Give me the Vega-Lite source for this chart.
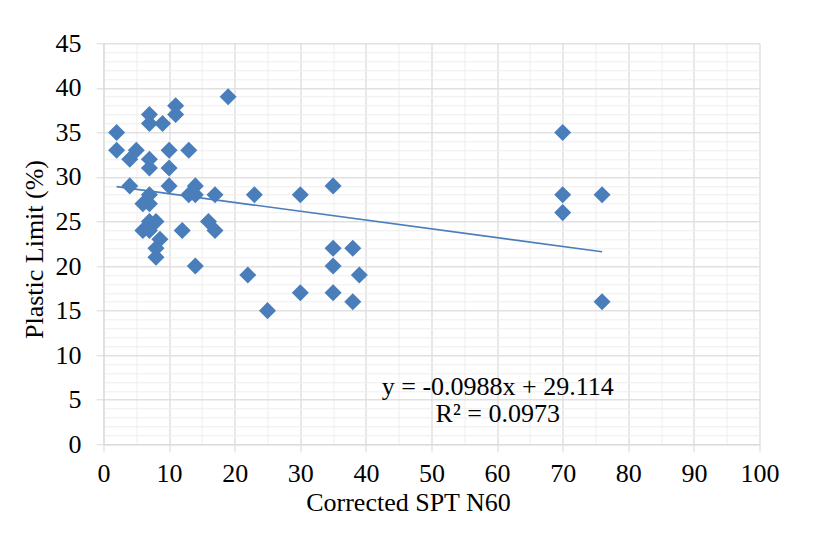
{
  "$schema": "https://vega.github.io/schema/vega-lite/v6.json",
  "width": 656,
  "height": 401,
  "autosize": "none",
  "padding": {"left": 103.5, "top": 43.3, "right": 67.5, "bottom": 97.7},
  "background": "white",
  "config": {
    "view": {"stroke": null},
    "font": "Liberation Serif",
    "axis": {
      "labelFont": "Liberation Serif",
      "titleFont": "Liberation Serif",
      "labelFontSize": 26,
      "titleFontSize": 26,
      "labelColor": "#000000",
      "titleColor": "#000000",
      "titleFontWeight": "normal",
      "labelFlush": false,
      "labelOverlap": false
    }
  },
  "datasets": {
    "points": [
      {"spt": 2, "pl": 35}, {"spt": 2, "pl": 33}, {"spt": 4, "pl": 32}, {"spt": 5, "pl": 33},
      {"spt": 4, "pl": 29}, {"spt": 7, "pl": 37}, {"spt": 7, "pl": 36}, {"spt": 9, "pl": 36},
      {"spt": 11, "pl": 38}, {"spt": 11, "pl": 37}, {"spt": 19, "pl": 39}, {"spt": 7, "pl": 32},
      {"spt": 7, "pl": 31}, {"spt": 10, "pl": 33}, {"spt": 13, "pl": 33}, {"spt": 10, "pl": 31},
      {"spt": 10, "pl": 29}, {"spt": 7, "pl": 28}, {"spt": 6, "pl": 27}, {"spt": 7, "pl": 27},
      {"spt": 7, "pl": 25}, {"spt": 8, "pl": 25}, {"spt": 6, "pl": 24}, {"spt": 7, "pl": 24},
      {"spt": 8.6, "pl": 23}, {"spt": 8, "pl": 22}, {"spt": 8, "pl": 21}, {"spt": 12, "pl": 24},
      {"spt": 16, "pl": 25}, {"spt": 17, "pl": 24}, {"spt": 14, "pl": 29}, {"spt": 13, "pl": 28},
      {"spt": 14, "pl": 28}, {"spt": 17, "pl": 28}, {"spt": 23, "pl": 28}, {"spt": 30, "pl": 28},
      {"spt": 35, "pl": 29}, {"spt": 14, "pl": 20}, {"spt": 22, "pl": 19}, {"spt": 25, "pl": 15},
      {"spt": 30, "pl": 17}, {"spt": 35, "pl": 22}, {"spt": 38, "pl": 22}, {"spt": 35, "pl": 20},
      {"spt": 39, "pl": 19}, {"spt": 35, "pl": 17}, {"spt": 38, "pl": 16}, {"spt": 70, "pl": 35},
      {"spt": 70, "pl": 28}, {"spt": 70, "pl": 26}, {"spt": 76, "pl": 28}, {"spt": 76, "pl": 16}
    ],
    "trend": [
      {"spt": 2, "pl": 28.916},
      {"spt": 76, "pl": 21.605}
    ]
  },
  "layer": [
    {
      "data": {"name": "points"},
      "mark": {"type": "point", "shape": "diamond", "filled": true, "size": 290, "color": "#4A7EBB", "opacity": 1},
      "encoding": {
        "x": {
          "field": "spt", "type": "quantitative",
          "scale": {"domain": [0, 100], "nice": false, "zero": false},
          "axis": {
            "orient": "bottom", "values": [0,5,10,15,20,25,30,35,40,45,50,55,60,65,70,75,80,85,90,95,100],
            "grid": true, "gridColor": "#eeeeee", "gridWidth": 1,
            "labels": false, "ticks": false, "domain": false, "title": null
          }
        },
        "y": {
          "field": "pl", "type": "quantitative",
          "scale": {"domain": [0, 45], "nice": false, "zero": false},
          "axis": {
            "orient": "left", "values": [0,1,2,3,4,5,6,7,8,9,10,11,12,13,14,15,16,17,18,19,20,21,22,23,24,25,26,27,28,29,30,31,32,33,34,35,36,37,38,39,40,41,42,43,44,45],
            "grid": true, "gridColor": "#eeeeee", "gridWidth": 1,
            "labels": false, "ticks": false, "domain": false, "title": null
          }
        }
      }
    },
    {
      "data": {"name": "trend"},
      "mark": {"type": "line", "color": "#4A7EBB", "strokeWidth": 1.6},
      "encoding": {
        "x": {
          "field": "spt", "type": "quantitative",
          "scale": {"domain": [0, 100], "nice": false, "zero": false},
          "axis": {
            "orient": "bottom", "values": [0,10,20,30,40,50,60,70,80,90,100],
            "grid": true, "gridColor": "#d9d9d9", "gridWidth": 1,
            "ticks": true, "tickColor": "#d9d9d9", "tickSize": 7.5, "tickWidth": 1,
            "domain": true, "domainColor": "#d9d9d9", "domainWidth": 1,
            "labelPadding": 9, "labelBaseline": "top",
            "title": "Corrected SPT N60",
            "titleX": 304.5, "titleY": 66, "titleBaseline": "alphabetic", "titleAlign": "center"
          }
        },
        "y": {
          "field": "pl", "type": "quantitative",
          "scale": {"domain": [0, 45], "nice": false, "zero": false},
          "axis": {
            "orient": "left", "values": [0,5,10,15,20,25,30,35,40,45],
            "grid": true, "gridColor": "#d9d9d9", "gridWidth": 1,
            "ticks": true, "tickColor": "#d9d9d9", "tickSize": 7.5, "tickWidth": 1,
            "domain": true, "domainColor": "#d9d9d9", "domainWidth": 1,
            "labelPadding": 15,
            "title": "Plastic Limit (%)",
            "titleAngle": 270, "titleX": -69.5, "titleY": 205.7, "titleBaseline": "middle", "titleAlign": "center"
          }
        }
      }
    },
    {
      "data": {"values": [{"label": "y = -0.0988x + 29.114"}]},
      "mark": {"type": "text", "font": "Liberation Serif", "fontSize": 26, "align": "center", "baseline": "alphabetic", "color": "#000000"},
      "encoding": {
        "x": {"datum": 60.1, "type": "quantitative", "scale": {"domain": [0, 100], "nice": false, "zero": false}, "axis": null},
        "y": {"datum": 5.5, "type": "quantitative", "scale": {"domain": [0, 45], "nice": false, "zero": false}, "axis": null},
        "text": {"field": "label"}
      }
    },
    {
      "data": {"values": [{"label": "R² = 0.0973"}]},
      "mark": {"type": "text", "font": "Liberation Serif", "fontSize": 26, "align": "center", "baseline": "alphabetic", "color": "#000000"},
      "encoding": {
        "x": {"datum": 60.1, "type": "quantitative", "scale": {"domain": [0, 100], "nice": false, "zero": false}, "axis": null},
        "y": {"datum": 2.47, "type": "quantitative", "scale": {"domain": [0, 45], "nice": false, "zero": false}, "axis": null},
        "text": {"field": "label"}
      }
    }
  ],
  "resolve": {"axis": {"x": "independent", "y": "independent"}}
}
